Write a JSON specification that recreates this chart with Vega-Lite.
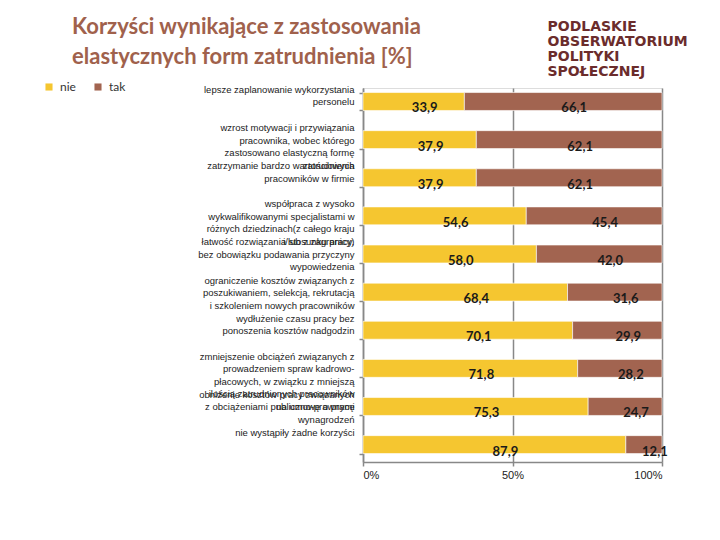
{
  "$schema": "https://vega.github.io/schema/vega-lite/v6.json",
  "width": 299,
  "height": 374,
  "autosize": {"type": "none"},
  "padding": {"left": 363, "top": 88, "right": 58, "bottom": 78},
  "background": "white",
  "title": {
    "text": ["Korzyści wynikające z zastosowania", "elastycznych form zatrudnienia [%]"],
    "anchor": "start",
    "frame": "group",
    "dx": -291,
    "fontSize": 22,
    "lineHeight": 30,
    "font": "Lato",
    "fontWeight": "bold",
    "color": "#A0614C",
    "offset": -50
  },
  "data": {
    "values": [
      {"cat": "lepsze zaplanowanie wykorzystania|personelu", "group": "nie", "value": 33.9},
      {"cat": "lepsze zaplanowanie wykorzystania|personelu", "group": "tak", "value": 66.1},
      {"cat": "wzrost motywacji i przywiązania|pracownika, wobec którego|zastosowano elastyczną formę|zatrudnienia", "group": "nie", "value": 37.9},
      {"cat": "wzrost motywacji i przywiązania|pracownika, wobec którego|zastosowano elastyczną formę|zatrudnienia", "group": "tak", "value": 62.1},
      {"cat": "zatrzymanie bardzo wartościowych|pracowników w firmie", "group": "nie", "value": 37.9},
      {"cat": "zatrzymanie bardzo wartościowych|pracowników w firmie", "group": "tak", "value": 62.1},
      {"cat": "współpraca z wysoko|wykwalifikowanymi specjalistami w|różnych dziedzinach(z całego kraju|i/lub z zagranicy)", "group": "nie", "value": 54.6},
      {"cat": "współpraca z wysoko|wykwalifikowanymi specjalistami w|różnych dziedzinach(z całego kraju|i/lub z zagranicy)", "group": "tak", "value": 45.4},
      {"cat": "łatwość rozwiązania stosunku pracy,|bez obowiązku podawania przyczyny|wypowiedzenia", "group": "nie", "value": 58.0},
      {"cat": "łatwość rozwiązania stosunku pracy,|bez obowiązku podawania przyczyny|wypowiedzenia", "group": "tak", "value": 42.0},
      {"cat": "ograniczenie kosztów związanych z|poszukiwaniem, selekcją, rekrutacją|i szkoleniem nowych pracowników", "group": "nie", "value": 68.4},
      {"cat": "ograniczenie kosztów związanych z|poszukiwaniem, selekcją, rekrutacją|i szkoleniem nowych pracowników", "group": "tak", "value": 31.6},
      {"cat": "wydłużenie czasu pracy bez|ponoszenia kosztów nadgodzin", "group": "nie", "value": 70.1},
      {"cat": "wydłużenie czasu pracy bez|ponoszenia kosztów nadgodzin", "group": "tak", "value": 29.9},
      {"cat": "zmniejszenie obciążeń związanych z|prowadzeniem spraw kadrowo-|płacowych, w związku z mniejszą|ilością zatrudnionych pracowników|na umowę o pracę", "group": "nie", "value": 71.8},
      {"cat": "zmniejszenie obciążeń związanych z|prowadzeniem spraw kadrowo-|płacowych, w związku z mniejszą|ilością zatrudnionych pracowników|na umowę o pracę", "group": "tak", "value": 28.2},
      {"cat": "obniżenie kosztów pracy związanych|z obciążeniami publiczno-prawnymi|wynagrodzeń", "group": "nie", "value": 75.3},
      {"cat": "obniżenie kosztów pracy związanych|z obciążeniami publiczno-prawnymi|wynagrodzeń", "group": "tak", "value": 24.7},
      {"cat": "nie wystąpiły żadne korzyści", "group": "nie", "value": 87.9},
      {"cat": "nie wystąpiły żadne korzyści", "group": "tak", "value": 12.1}
    ]
  },
  "transform": [
    {"stack": "value", "groupby": ["cat"], "sort": [{"field": "group", "order": "ascending"}], "as": ["x0", "x1"]},
    {"calculate": "(datum.x0 + datum.x1) / 2", "as": "mid"},
    {"calculate": "replace(format(datum.value, '.1f'), '.', ',')", "as": "label"}
  ],
  "resolve": {"axis": {"x": "independent"}},
  "encoding": {
    "y": {
      "field": "cat",
      "type": "nominal",
      "sort": null,
      "scale": {"paddingInner": 0.53, "paddingOuter": 0.17, "align": 0.35},
      "axis": {
        "title": null,
        "labelExpr": "isValid(datum.value) ? split(datum.value, '|') : ''",
        "labelFont": "Liberation Sans",
        "labelFontSize": 9.5,
        "labelLineHeight": 12.5,
        "labelColor": "#222222",
        "labelLimit": 250,
        "labelPadding": 5,
        "labelOffset": -12,
        "tickBand": "extent",
        "tickColor": "#888888",
        "tickSize": 4,
        "tickWidth": 1.5,
        "domainColor": "#888888",
        "domainWidth": 1.5
      }
    }
  },
  "layer": [
    {
      "mark": {"type": "bar", "stroke": "white", "strokeWidth": 0.6},
      "encoding": {
        "x": {
          "field": "x0",
          "type": "quantitative",
          "scale": {"domain": [0, 100], "nice": false},
          "axis": {
            "title": null,
            "values": [0, 50, 100],
            "labelExpr": "datum.value + '%'",
            "labelFont": "Liberation Sans",
            "labelFontSize": 11,
            "labelColor": "#222222",
            "labelPadding": 3,
            "grid": true,
            "gridColor": "#888888",
            "gridWidth": 1.5,
            "domainColor": "#888888",
            "domainWidth": 1.5,
            "tickColor": "#888888",
            "tickSize": 4,
            "tickWidth": 1.5
          }
        },
        "x2": {"field": "x1"},
        "color": {
          "field": "group",
          "type": "nominal",
          "scale": {"domain": ["nie", "tak"], "range": ["#F5C630", "#A26450"]},
          "legend": {
            "title": null,
            "orient": "none",
            "legendX": -320,
            "legendY": -7,
            "direction": "horizontal",
            "symbolType": "square",
            "symbolSize": 50,
            "symbolStrokeWidth": 0,
            "labelFont": "Lato",
            "labelFontSize": 12,
            "labelColor": "#333333",
            "columnPadding": 16,
            "labelOffset": 5
          }
        }
      }
    },
    {
      "mark": {"type": "text", "font": "Lato", "fontWeight": "bold", "fontSize": 13, "color": "#1a1a1a", "dx": 11, "dy": 7},
      "encoding": {
        "x": {
          "field": "mid",
          "type": "quantitative",
          "axis": {
            "orient": "top",
            "labels": false,
            "ticks": false,
            "domain": false,
            "grid": false,
            "title": ["PODLASKIE", "OBSERWATORIUM", "POLITYKI", "SPOŁECZNEJ"],
            "titleX": 184,
            "titleY": -69,
            "titleAlign": "left",
            "titleBaseline": "top",
            "titleAnchor": null,
            "titleFont": "DejaVu Sans",
            "titleFontWeight": "bold",
            "titleFontSize": 14,
            "titleLineHeight": 15,
            "titleColor": "#6B2C2C"
          }
        },
        "text": {"field": "label"}
      }
    }
  ]
}
